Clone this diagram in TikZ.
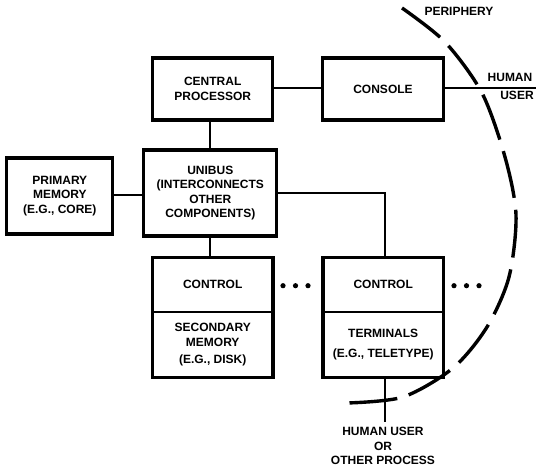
\documentclass[tikz,border=0pt]{standalone}
\usepackage{fontspec}
\setmainfont{Liberation Sans}
\usetikzlibrary{fit}

\begin{document}
\begin{tikzpicture}[
x=1pt, y=-1pt,
font=\fontsize{12}{14.5}\selectfont\bfseries,
unit/.style={draw, line width=3.2pt, minimum width=120pt, minimum height=62pt, align=center, inner sep=0pt},
half/.style={minimum width=120pt, inner sep=0pt, align=center},
link/.style={line width=1.3pt},
rim/.style={line width=3.4pt, dash pattern=on 48pt off 12pt}
]
\useasboundingbox (0,0) rectangle (536,468);
\node[unit] (cpu) at (212.7,89) {CENTRAL\\PROCESSOR};
\node[unit, minimum width=121pt] (console) at (383,89) {CONSOLE};
\node[unit, minimum width=133pt, minimum height=86pt] (unibus) at (210.3,193) {UNIBUS\\(INTERCONNECTS\\OTHER\\COMPONENTS)};
\node[unit, minimum width=106pt, minimum height=76pt] (primem) at (59.8,196) {PRIMARY\\MEMORY\\(E.G., CORE)};
% split boxes: control on top, device below
\node[half, minimum height=54.6pt] (secctl) at (212.7,284.7) {CONTROL};
\node[half, minimum height=65pt] (secmem) at (212.7,344.5) {SECONDARY\\[0.5pt]MEMORY\\[3pt](E.G., DISK)};
\node[unit, fit=(secctl)(secmem)] (sec) {};
\node[half, minimum height=54.6pt] (termctl) at (383.2,284.7) {CONTROL};
\node[half, minimum height=65pt] (term) at (383.2,344.5) {TERMINALS\\[5.5pt](E.G., TELETYPE)};
\node[unit, fit=(termctl)(term)] (termbox) {};
\draw[line width=1.5pt] (secctl.south west) -- (secctl.south east);
\draw[line width=1.5pt] (termctl.south west) -- (termctl.south east);
\node[align=center, inner sep=5.5pt] (hproc) at (383,446) {HUMAN USER\\OR\\OTHER PROCESS};
\node (periph) at (459,11) {PERIPHERY};
\node (human) at (510,77) {HUMAN};
\node (user) at (517,95) {USER};
\coordinate (huser) at (536,88);
\draw[link] (cpu.east |- 0,88) -- (console.west |- 0,88);
\draw[link] (console.east |- huser) -- (huser);
\draw[link] (unibus.north -| 210,0) -- (cpu.south -| 210,0);
\draw[link] (primem.east |- 0,195) -- (unibus.west |- 0,195);
\draw[link] (unibus.east |- 0,193) -| (termbox.north -| 385,0);
\draw[link] (unibus.south -| 210,0) -- (termbox.north -| 210,0);
\draw[link] (termbox.south -| 385,0) -- (hproc.north -| 385,0);
% dots between units
\fill (283,285.7) circle (2.6pt);
\fill (295.5,285.7) circle (2.6pt);
\fill (308,285.7) circle (2.6pt);
\fill (454,285.7) circle (2.6pt);
\fill (466.5,285.7) circle (2.6pt);
\fill (479,285.7) circle (2.6pt);
% periphery boundary
\draw[rim] plot[smooth] coordinates {(402,8) (445,42) (482,93) (505,157) (516,215) (509,277) (487,327) (453,368) (403,397) (347,403)};
\end{tikzpicture}
\end{document}
